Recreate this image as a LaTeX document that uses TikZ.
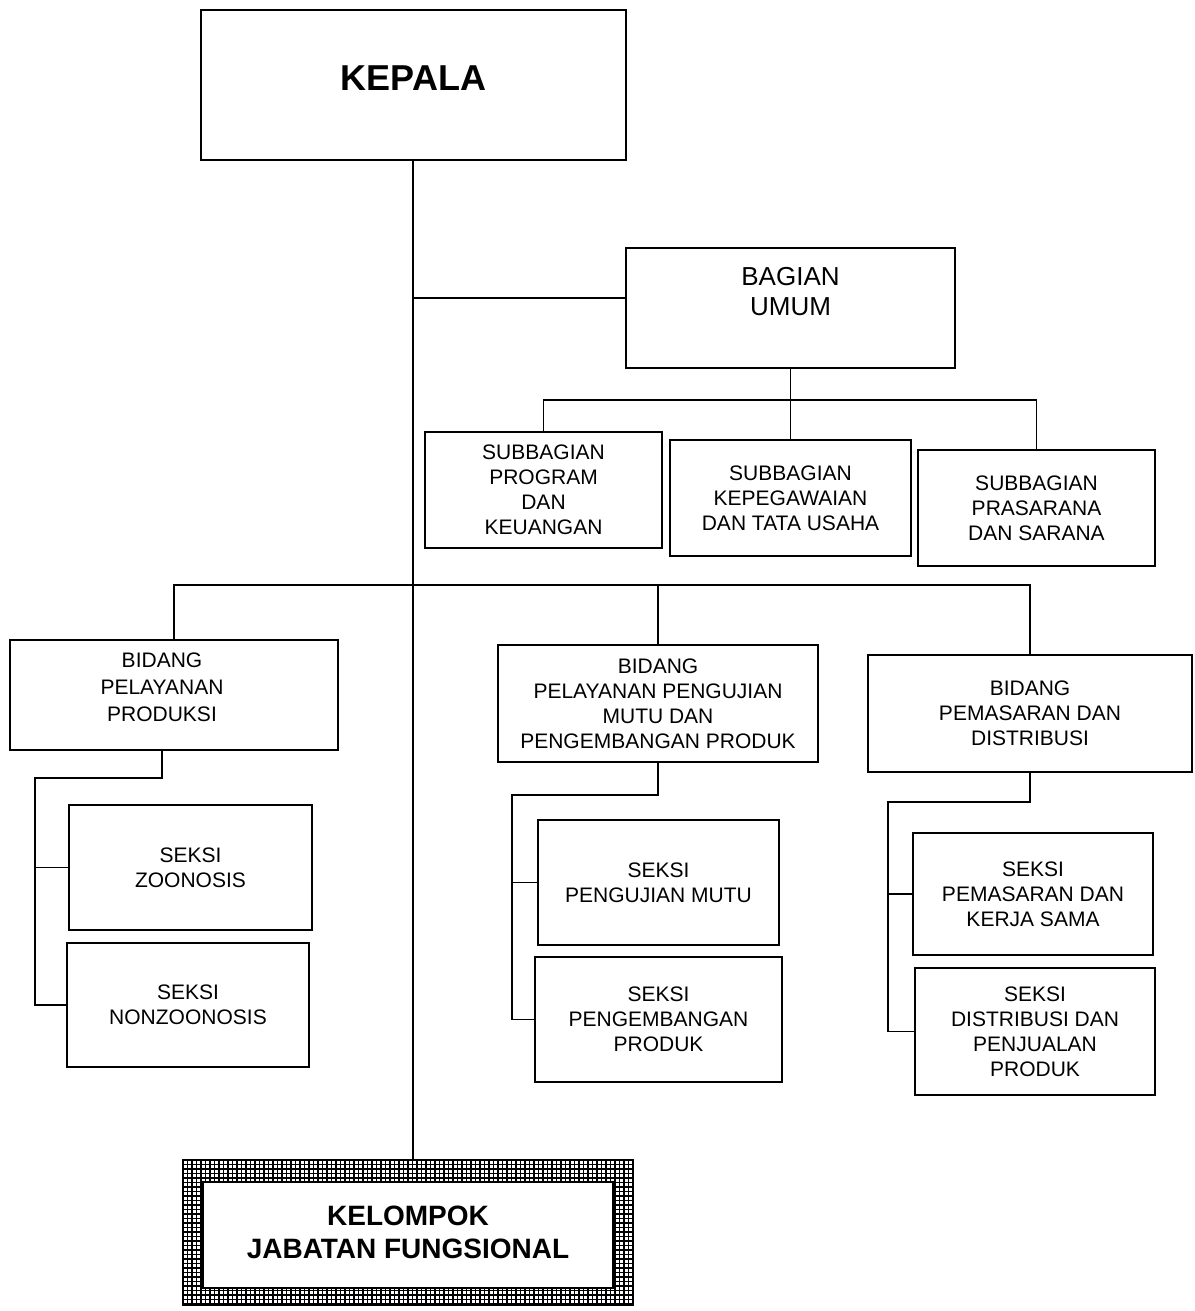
\documentclass[tikz,border=0pt]{standalone}
\usepackage{fontspec}
\setmainfont{Liberation Sans}
\begin{document}
\begin{tikzpicture}[x=1pt,y=-1pt,
  box/.style={draw, line width=1.5pt, align=center, inner sep=2pt, font=\fontsize{21}{25}\selectfont},
  conn/.style={line width=1.2pt},
  gridframe/.style={draw, line width=1.5pt, align=center,
    path picture={
      \foreach \i in {0,...,101}
        \draw[line width=1.7pt] ([xshift=\i*4.5pt]path picture bounding box.north west) -- ([xshift=\i*4.5pt]path picture bounding box.south west);
      \foreach \j in {0,...,33}
        \draw[line width=1.7pt] ([yshift=-\j*4.5pt]path picture bounding box.north west) -- ([yshift=-\j*4.5pt]path picture bounding box.north east);
      \fill[white, draw=black, line width=1.5pt] ([shift={(20pt,-22pt)}]path picture bounding box.north west) rectangle ([shift={(-20pt,17pt)}]path picture bounding box.south east);
    }}
]
\useasboundingbox (0,0) rectangle (1194,1311);

% top
\node[box, minimum width=425, minimum height=150,
  label={[yshift=7pt, font=\bfseries\fontsize{36}{40}\selectfont]center:KEPALA}] (kepala) at (413.5,85) {};
\node[box, minimum width=329, minimum height=120,
  label={[yshift=16pt, align=center, font=\fontsize{26}{30}\selectfont]center:BAGIAN\\UMUM}] (bagian) at (790.5,308) {};

% subbagian
\node[box, minimum width=237, minimum height=116] (spk) at (543.5,490) {SUBBAGIAN\\PROGRAM\\DAN\\KEUANGAN};
\node[box, minimum width=241, minimum height=116] (sktu) at (790.5,498) {SUBBAGIAN\\KEPEGAWAIAN\\DAN TATA USAHA};
\node[box, minimum width=237, minimum height=116] (sps) at (1036.5,508) {SUBBAGIAN\\PRASARANA\\DAN SARANA};

% bidang
\node[box, minimum width=328, minimum height=110,
  label={[xshift=-12pt, yshift=8pt, align=center, font=\fontsize{21}{27}\selectfont]center:BIDANG\\PELAYANAN\\PRODUKSI}] (bpp) at (174,695) {};
\node[box, minimum width=320, minimum height=117] (bpm) at (658,703.5) {BIDANG\\PELAYANAN PENGUJIAN\\MUTU DAN\\PENGEMBANGAN PRODUK};
\node[box, minimum width=324, minimum height=117] (bpd) at (1030,713.5) {BIDANG\\PEMASARAN DAN\\DISTRIBUSI};

% seksi
\node[box, minimum width=243, minimum height=125] (sz) at (190.5,867.5) {SEKSI\\ZOONOSIS};
\node[box, minimum width=242, minimum height=124] (snz) at (188,1005) {SEKSI\\NONZOONOSIS};
\node[box, minimum width=241, minimum height=125] (spm) at (658.5,882.5) {SEKSI\\PENGUJIAN MUTU};
\node[box, minimum width=247, minimum height=125] (spp) at (658.5,1019.5) {SEKSI\\PENGEMBANGAN\\PRODUK};
\node[box, minimum width=240, minimum height=122] (spks) at (1033,894) {SEKSI\\PEMASARAN DAN\\KERJA SAMA};
\node[box, minimum width=240, minimum height=127] (sdpp) at (1035,1031.5) {SEKSI\\DISTRIBUSI DAN\\PENJUALAN\\PRODUK};

% kelompok
\node[gridframe, minimum width=450, minimum height=145, font=\bfseries\fontsize{28}{33}\selectfont] (kjf) at (408,1232.5) {KELOMPOK\\JABATAN FUNGSIONAL};

% connectors
\coordinate (main) at (413,160);
\draw[conn] (main) -- (main |- kjf.north);
\coordinate (bj) at (413,298);
\draw[conn] (bj) -- (bj -| bagian.west);

\coordinate (jb) at (790.5,400);
\draw[conn] (bagian.south) -- (sktu.north);
\draw[conn] (spk.north) |- (jb) -| (sps.north);

\coordinate (bus) at (658,585);
\draw[conn] (bpp.north) |- (bus) -| (bpd.north);
\draw[conn] (bus) -- (bpm.north);

\coordinate (lb) at (35,778);
\coordinate (ld) at (162,750);
\draw[conn] (ld) |- (lb) |- (snz.west);
\draw[conn] (lb |- sz.west) -- (sz.west);

\coordinate (mb) at (512,795);
\draw[conn] (bpm.south) |- (mb) |- (spp.west);
\draw[conn] (mb |- spm.west) -- (spm.west);

\coordinate (rb) at (888,802);
\draw[conn] (bpd.south) |- (rb) |- (sdpp.west);
\draw[conn] (rb |- spks.west) -- (spks.west);
\end{tikzpicture}
\end{document}
